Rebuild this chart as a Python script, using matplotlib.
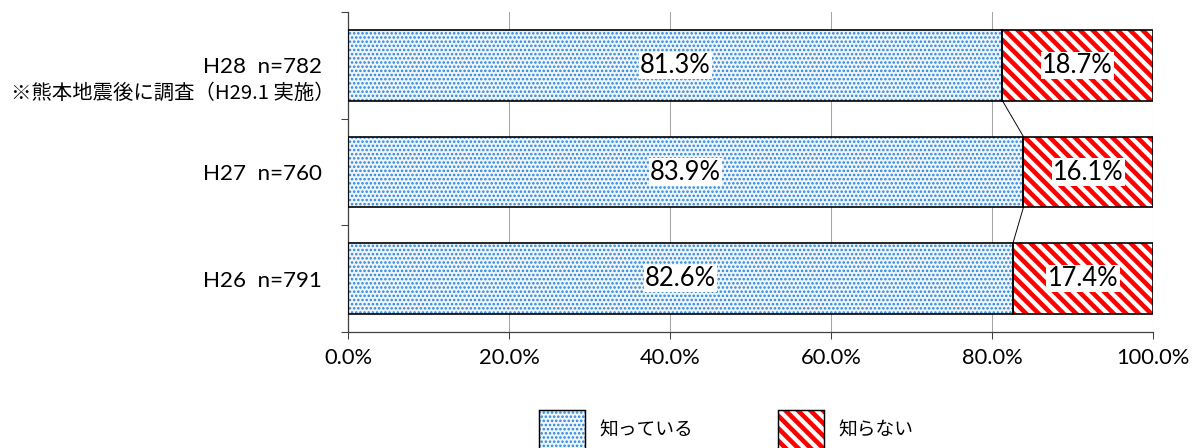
import matplotlib
matplotlib.use("Agg")
import matplotlib.pyplot as plt
from matplotlib.patches import Patch
from matplotlib.ticker import FixedLocator
from matplotlib.legend_handler import HandlerTuple

plt.rcParams['font.family'] = ['Lato', 'Noto Sans CJK JP', 'DejaVu Sans']

categories = ["H28  n=782", "H27  n=760", "H26  n=791"]
note = "※熊本地震後に調査（H29.1 実施）"
know = [81.3, 83.9, 82.6]
dont_know = [18.7, 16.1, 17.4]
series_names = ["知っている", "知らない"]
xticks = [0, 20, 40, 60, 80, 100]
xticklabels = ["0.0%", "20.0%", "40.0%", "60.0%", "80.0%", "100.0%"]

DPI = 75
fig = plt.figure(figsize=(1192 / DPI, 448 / DPI), dpi=DPI)
ax = fig.add_axes([348 / 1192, (448 - 332) / 448, (1153 - 348) / 1192, 320 / 448])

y = list(range(len(categories)))
h = 0.665
blue_face = '#eef5fd'
blue_dot = '#2a84d8'
red = '#ff0000'
BLUE_HATCH = '...'
RED_HATCH = '\\\\'
BLUE_HLW = 1.6
RED_HLW = 4.4


def set_hlw(p, lw):
    if hasattr(p, 'set_hatch_linewidth'):
        p.set_hatch_linewidth(lw)
    else:
        p._hatch_linewidth = lw


# 知っている: light blue with dots
with plt.rc_context({'hatch.linewidth': BLUE_HLW}):
    ax.barh(y, know, height=h, color=blue_face, edgecolor=blue_dot, hatch=BLUE_HATCH, linewidth=0, zorder=2)
    p_blue = Patch(facecolor=blue_face, edgecolor=blue_dot, hatch=BLUE_HATCH, linewidth=0)
ax.barh(y, know, height=h, fill=False, edgecolor='black', linewidth=1.6, zorder=3)
# 知らない: red diagonal stripes
with plt.rc_context({'hatch.linewidth': RED_HLW}):
    ax.barh(y, dont_know, left=know, height=h, color='white', edgecolor=red, hatch=RED_HATCH, linewidth=0, zorder=2)
    p_red = Patch(facecolor='white', edgecolor=red, hatch=RED_HATCH, linewidth=0)
ax.barh(y, dont_know, left=know, height=h, fill=False, edgecolor='black', linewidth=1.6, zorder=3)

# series lines
for i in range(len(y) - 1):
    ax.plot([know[i], know[i + 1]], [y[i] + h / 2, y[i + 1] - h / 2], color='black', lw=0.9, zorder=3)

# data labels
for i in y:
    ax.text(know[i] / 2, i, f"{know[i]:.1f}%", ha='center', va='center', fontsize=24.5, zorder=5,
            bbox=dict(boxstyle='square,pad=0.05', fc='white', ec='none'))
    ax.text(know[i] + dont_know[i] / 2, i, f"{dont_know[i]:.1f}%", ha='center', va='center', fontsize=24.5, zorder=5,
            bbox=dict(boxstyle='square,pad=0.05', fc='white', ec='none'))

ax.set_xlim(0, 100)
ax.set_ylim(len(categories) - 0.5, -0.5)
ax.set_xticks(xticks)
ax.set_xticklabels(xticklabels, fontsize=21)
ax.set_yticks(y)
ax.set_yticklabels(categories, fontsize=21.5)
ax.yaxis.set_minor_locator(FixedLocator([-0.5, 0.5, 1.5, 2.5]))
ax.tick_params(axis='y', which='major', length=0, pad=25)
ax.tick_params(axis='y', which='minor', length=7, width=1, color='#404040')
ax.tick_params(axis='x', which='major', length=7, width=1, color='#404040', pad=8)

ax.text(-0.016, 0.259, note, transform=ax.get_yaxis_transform(), ha='right', va='center',
        fontsize=19.5, family=['Noto Sans CJK JP', 'DejaVu Sans'])

ax.xaxis.grid(True, color='#a6a6a6', lw=1, zorder=0)
ax.set_axisbelow(True)
for s in ['top', 'right']:
    ax.spines[s].set_visible(False)
ax.spines['left'].set_color('#404040')
ax.spines['bottom'].set_color('#404040')
ax.spines['left'].set_linewidth(1.2)
ax.spines['bottom'].set_linewidth(1.2)

h_blue = (p_blue, Patch(fill=False, edgecolor='black', linewidth=1.4))
h_red = (p_red, Patch(fill=False, edgecolor='black', linewidth=1.4))
leg = fig.legend([h_blue, h_red], series_names, loc='center', bbox_to_anchor=(0.609, 0.04), ncol=2,
                 frameon=False, handlelength=2.45, handleheight=3.0,
                 columnspacing=4.55, handletextpad=0.75,
                 handler_map={tuple: HandlerTuple(ndivide=1, pad=0)},
                 prop={'family': ['Noto Sans CJK JP', 'DejaVu Sans'], 'size': 18})
for p in leg.findobj(matplotlib.patches.Rectangle):
    hatch = p.get_hatch()
    if hatch == RED_HATCH:
        set_hlw(p, RED_HLW)
    elif hatch == BLUE_HATCH:
        set_hlw(p, BLUE_HLW)

fig.savefig('out.png', dpi=DPI)
